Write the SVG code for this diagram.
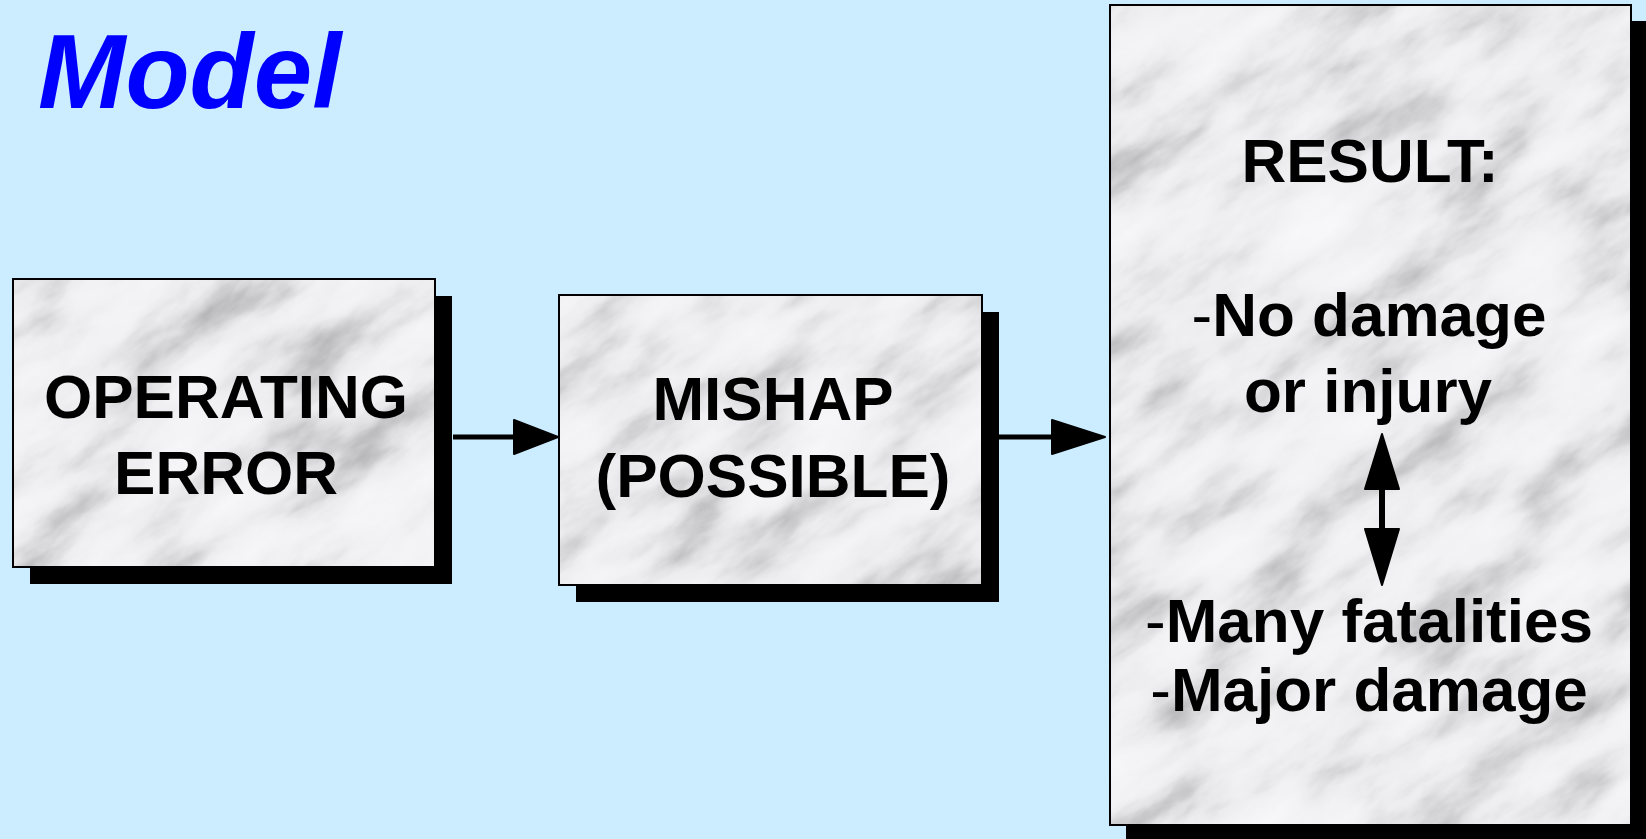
<svg xmlns="http://www.w3.org/2000/svg" width="1646" height="839" viewBox="0 0 1646 839">
<style>
.shadow{fill:#000}
.frame{fill:none;stroke:#000;stroke-width:2}
.lbl{font-family:"Liberation Sans",Arial,sans-serif;font-weight:bold;font-size:62px;fill:#000;text-anchor:middle}
.thin{font-weight:normal}
.conn{stroke:#000;stroke-width:5;fill:none}
.head{fill:#000;stroke:#000;stroke-width:2;stroke-linejoin:round}
</style>
<defs>
<filter id="marble" x="0" y="0" width="1" height="1" color-interpolation-filters="sRGB">
<feTurbulence type="fractalNoise" baseFrequency="0.008 0.02" numOctaves="5" seed="11" result="n"/>
<feColorMatrix in="n" type="matrix" values="1 0 0 0 0 1 0 0 0 0 1 0 0 0 0 0 0 0 0 1"/>
<feComponentTransfer>
<feFuncR type="table" tableValues="0.68 0.72 0.8 0.88 0.93 0.95 0.96 0.97 0.98"/>
<feFuncG type="table" tableValues="0.68 0.72 0.8 0.88 0.93 0.95 0.96 0.97 0.98"/>
<feFuncB type="table" tableValues="0.69 0.73 0.81 0.89 0.94 0.96 0.97 0.98 0.99"/>
</feComponentTransfer>
</filter>
<clipPath id="c1"><rect x="13" y="279" width="422" height="288"/></clipPath>
<clipPath id="c2"><rect x="559" y="295" width="423" height="290"/></clipPath>
<clipPath id="c3"><rect x="1110" y="5" width="521" height="820"/></clipPath>
</defs>
<rect width="1646" height="839" fill="#CCECFF"/>
<text x="38" y="108" font-family="'Liberation Sans',Arial,sans-serif" font-weight="bold" font-style="italic" font-size="105" fill="#0000FF">Model</text>

<g id="node-operating-error">
<rect class="shadow" x="30" y="296" width="422" height="288"/>
<g clip-path="url(#c1)"><rect x="-36" y="163" width="520" height="520" transform="rotate(-35 224 423)" filter="url(#marble)"/></g>
<rect class="frame" x="13" y="279" width="422" height="288"/>
<text class="lbl" x="226" y="418">OPERATING</text>
<text class="lbl" x="226" y="494">ERROR</text>
</g>

<g id="node-mishap">
<rect class="shadow" x="576" y="312" width="423" height="290"/>
<g clip-path="url(#c2)"><rect x="510" y="180" width="520" height="520" transform="rotate(-35 770 440)" filter="url(#marble)"/></g>
<rect class="frame" x="559" y="295" width="423" height="290"/>
<text class="lbl" x="773" y="420">MISHAP</text>
<text class="lbl" x="773" y="497">(POSSIBLE)</text>
</g>

<g id="node-result">
<rect class="shadow" x="1126" y="21" width="521" height="820"/>
<g clip-path="url(#c3)"><rect x="850" y="-85" width="1040" height="1000" transform="rotate(-35 1370 415)" filter="url(#marble)"/></g>
<rect class="frame" x="1110" y="5" width="521" height="820"/>
<text class="lbl" x="1370" y="182">RESULT:</text>
<text class="lbl" x="1369" y="336"><tspan class="thin">-</tspan>No damage</text>
<text class="lbl" x="1368" y="412">or injury</text>
<text class="lbl" x="1369" y="642"><tspan class="thin">-</tspan>Many fatalities</text>
<text class="lbl" x="1369" y="711"><tspan class="thin">-</tspan>Major damage</text>
</g>

<g id="connectors">
<line class="conn" x1="453" y1="437" x2="516" y2="437"/>
<polygon class="head" points="514,420 558,437 514,454"/>
<line class="conn" x1="999" y1="437" x2="1054" y2="437"/>
<polygon class="head" points="1052,420 1105,437 1052,454"/>
<line x1="1382" y1="486" x2="1382" y2="532" stroke="#000" stroke-width="6"/>
<polygon class="head" points="1382,434 1399,489 1365,489"/>
<polygon class="head" points="1365,529 1399,529 1382,585"/>
</g>
</svg>
